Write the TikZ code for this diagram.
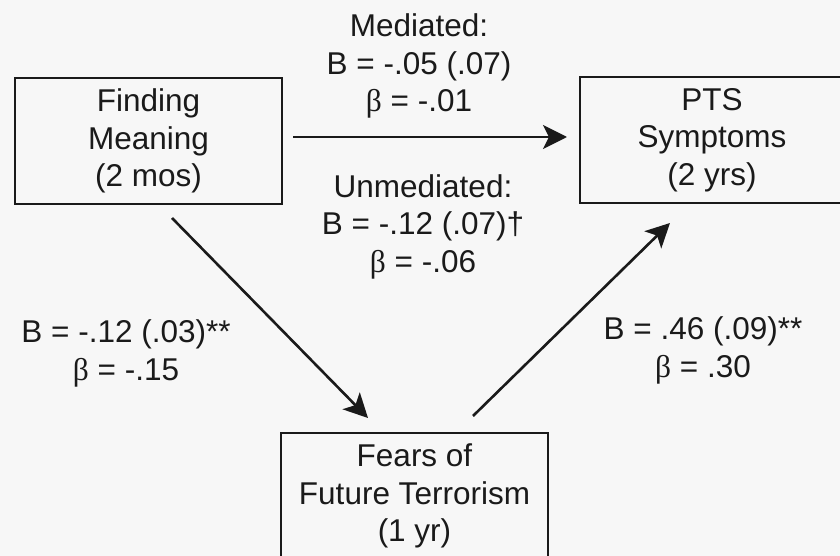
\documentclass[tikz,border=0pt]{standalone}
\usepackage{fontspec}
\setmainfont{Liberation Sans}
\newfontfamily\grkfont{Liberation Serif}
\usetikzlibrary{arrows.meta}
\definecolor{ink}{HTML}{1A1A1A}
\definecolor{bgc}{HTML}{F7F7F7}
\newcommand\labfont{\fontsize{31.5}{37.5}\selectfont}
\newcommand\bb{{\grkfont β}}
\begin{document}
\begin{tikzpicture}[x=1pt,y=-1pt,
  box/.style={draw=ink,line width=2.6pt,minimum width=267pt,minimum height=126pt,inner sep=0pt,align=center,text=ink,font=\labfont},
  lbl/.style={align=center,anchor=base,text=ink,font=\labfont,inner sep=0pt},
  conn/.style={draw=ink,line width=2.6pt,-{Stealth[length=24pt,width=24pt,inset=6pt]}}]
\useasboundingbox (0,0) rectangle (840,556);
\fill[bgc] (0,0) rectangle (840,556);
\clip (0,0) rectangle (840,556);
\node[box] (fm) at (148.5,141) {Finding\\Meaning\\(2 mos)};
\node[box,minimum width=264pt] (pts) at (712,140) {PTS\\Symptoms\\(2 yrs)};
\node[box] (ftt) at (414.5,496) {Fears of\\Future Terrorism\\(1 yr)};
\coordinate (m1) at (293,137);
\coordinate (m2) at (567,137);
\coordinate (a1) at (172,218);
\coordinate (a2) at (368,418);
\coordinate (b1) at (473,416);
\coordinate (b2) at (670,223);
\draw[conn] (m1) -- (m2);
\draw[conn] (a1) -- (a2);
\draw[conn] (b1) -- (b2);
\node[lbl] (med) at (419,112) {Mediated:\\B = -.05 (.07)\\\bb{} = -.01};
\node[lbl] (unmed) at (423,272) {Unmediated:\\B = -.12 (.07)†\\\bb{} = -.06};
\node[lbl] (la) at (126,380) {B = -.12 (.03)**\\\bb{} = -.15};
\node[lbl] (lb) at (703,377) {B = .46 (.09)**\\\bb{} = .30};
\end{tikzpicture}
\end{document}
